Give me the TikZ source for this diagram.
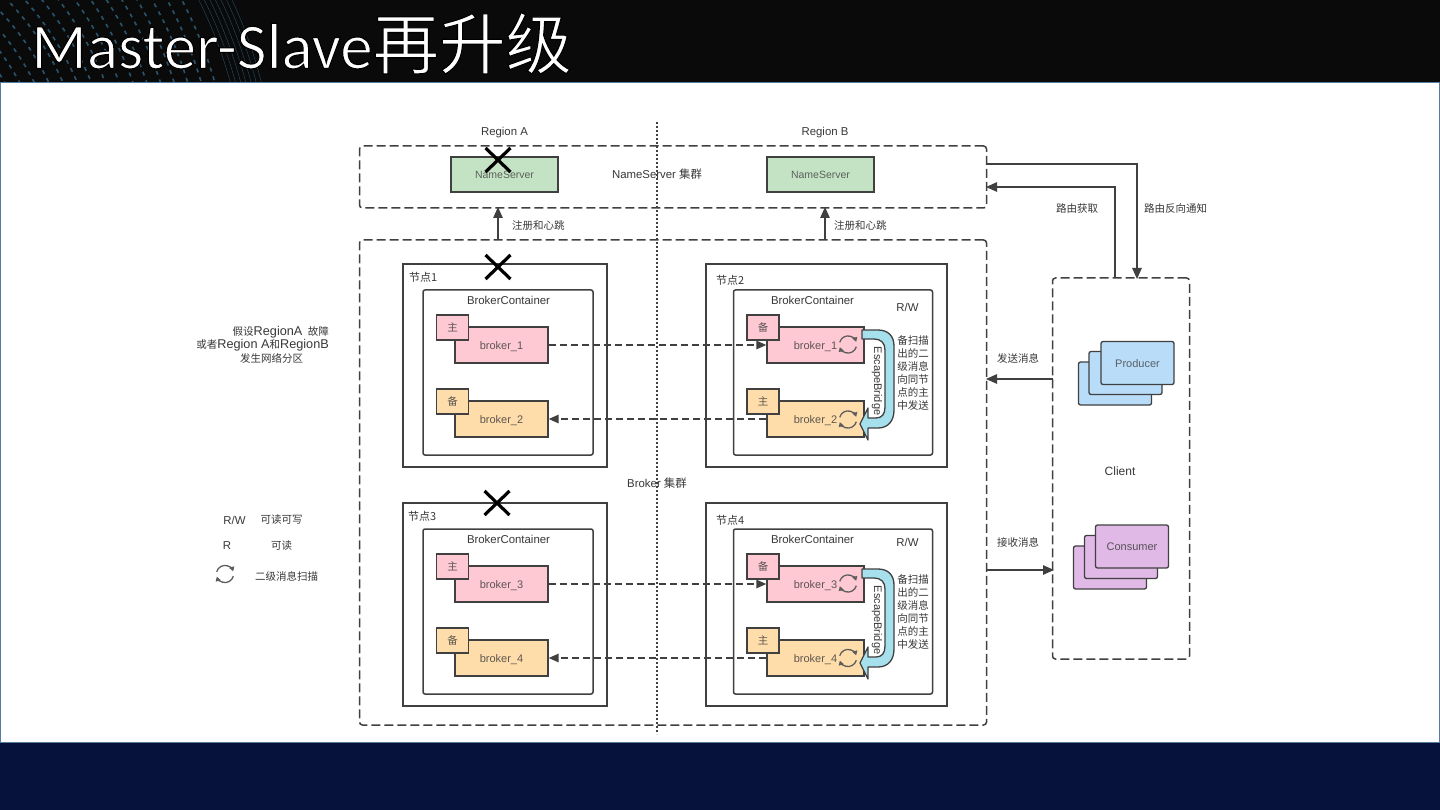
\documentclass[tikz,border=0pt]{standalone}
\usepackage{fontspec}
\setmainfont{Liberation Sans}
\newfontfamily\cjk{Noto Sans CJK SC}
\newfontfamily\titlefont{Carlito}
\usetikzlibrary{arrows.meta,calc}
\definecolor{ink}{HTML}{404040}
\definecolor{txt}{HTML}{383838}
\definecolor{pinkc}{HTML}{FFC9D4}
\definecolor{orangec}{HTML}{FFDDAA}
\definecolor{greenc}{HTML}{C4E3C4}
\definecolor{bluec}{HTML}{B9DDF8}
\definecolor{purplec}{HTML}{E0B9E6}
\definecolor{cyanc}{HTML}{A6E0EC}
\definecolor{navy}{HTML}{06123C}
\definecolor{frame}{HTML}{2E5C86}
\definecolor{dotc}{HTML}{3F86B0}
\tikzset{
 x=1pt,y=-1pt,
 lbl/.style={font=\cjk\fontsize{10.5}{12.5}\selectfont,text=txt,inner sep=0pt,align=center},
 lat/.style={lbl,font=\fontsize{11.4}{13}\selectfont},
 dashbox/.style={draw=ink,line width=1.5pt,dash pattern=on 9pt off 4pt,rounded corners=3pt},
 nodebox/.style={draw=ink,line width=1.5pt,fill=white,inner sep=0pt},
 contbox/.style={draw=ink,line width=1.5pt,fill=white,rounded corners=2pt,inner sep=0pt},
 brokerbox/.style={draw=ink,line width=1.4pt,minimum height=36pt,inner sep=0pt,text height=8pt,text depth=0pt,font=\fontsize{11}{12}\selectfont},
 tagbox/.style={draw=ink,line width=1.4pt,minimum width=32pt,minimum height=25pt,inner sep=0pt,font=\cjk\fontsize{10.5}{12}\selectfont},
 nsbox/.style={draw=ink,line width=1.4pt,fill=greenc,minimum width=107pt,minimum height=35pt,inner sep=0pt,font=\fontsize{10.5}{12}\selectfont,text=ink!80!greenc},
 stackb/.style={draw=ink,line width=1.3pt,fill=bluec,rounded corners=2pt,minimum width=73pt,minimum height=43pt,inner sep=0pt,text height=8pt,text depth=0pt,font=\fontsize{11}{12}\selectfont,text=ink!80!bluec},
 stackp/.style={stackb,fill=purplec,text=ink!85!purplec},
 flow/.style={draw=ink,line width=1.3pt,-{Triangle[length=11pt,width=9.5pt]}},
 flowd/.style={draw=ink,line width=1.5pt,dash pattern=on 7pt off 4pt,-{Triangle[length=10pt,width=8.5pt]}},
 crossx/.style={draw=black,line width=3.2pt},
 synca/.style={draw=ink!85!white,line width=1.3pt,-{Triangle[length=4.5pt,width=5pt]}},
}
\newcommand{\syncicon}[2]{%
 \draw[synca] ($(#1,#2)+(-8.3,-2.2)$) arc[start angle=-165,end angle=-18,radius=8.6];
 \draw[synca] ($(#1,#2)+(8.3,2.2)$) arc[start angle=15,end angle=162,radius=8.6];
}
% name, broker cx, cy, width, tag cx, tag text, label, fill
\newcommand{\brokerpair}[8]{%
 \node[brokerbox,minimum width=#4pt,fill=#8,text=ink!85!#8] (#1) at (#2,#3) {#7};
 \node[tagbox,fill=#8,text=ink!85!#8] (#1t) at (#5,#3-17.5) {#6};
}
\newcommand{\bridge}[2]{%
 \begin{scope}[shift={(#1,#2)}]
 \path[draw=ink,line width=1.3pt,fill=cyanc,line join=round]
  (862,330) -- (878,330) .. controls (888,330) and (894,336) .. (894,346)
  -- (894,410) .. controls (894,421) and (888,428) .. (878,428) -- (868,428) -- (868,440)
  -- (860,424) -- (868,408) -- (868,418) -- (876,418) .. controls (882,418) and (885,414) .. (885,407)
  -- (885,350) .. controls (885,343) and (881,339) .. (874,339) -- (862,339) -- cycle;
 \node[rotate=-90,font=\fontsize{11}{12}\selectfont,text=txt,inner sep=0pt] (ebr#2) at (877,381) {EscapeBridge};
 \end{scope}
}
\newcommand{\latin}[1]{{\fontspec{Liberation Sans}\fontsize{12.7}{13}\selectfont #1}}
\begin{document}
\begin{tikzpicture}
\useasboundingbox (0,0) rectangle (1440,810);
\fill[black!96!white] (0,0) rectangle (1440,83);
\fill[navy] (0,742) rectangle (1440,810);
\begin{scope}
 \clip (0,0) rectangle (300,82);
 \foreach \r in {210,223,...,440}{
  \draw[color=dotc,line width=1.6pt,dash pattern=on 4pt off 5pt,opacity=.6] (-200,200) circle[radius=\r];
 }
 \foreach \r in {446,451,...,480}{
  \draw[color=dotc,line width=.4pt,opacity=.55] (-200,200) circle[radius=\r];
 }
\end{scope}
\fill[white] (0,83) rectangle (1440,742);
\draw[frame!80!white,line width=1pt] (0.5,742) -- (0.5,82.5) -- (1439.5,82.5) -- (1439.5,742) -- cycle;
\node[anchor=base west,text=white,inner sep=0pt,font=\titlefont\fontsize{65}{70}\selectfont] (title) at (31,68.5) {\special{pdf:code 2 Tr 0 0 0 RG 1.1 w}Master-Slave{\cjk\fontsize{66.5}{70}\selectfont 再升级}\special{pdf:code 0 Tr}};
% containers
\node[dashbox,minimum width=627pt,minimum height=62pt,inner sep=0pt] (nsgroup) at (673,177) {};
\node[dashbox,minimum width=627pt,minimum height=485pt,inner sep=0pt] (brgroup) at (673,482.5) {};
\node[dashbox,minimum width=137pt,minimum height=381pt,inner sep=0pt] (client) at (1121,468.5) {};
% region labels
\node[lat] (ra) at (504.5,132.5) {Region A};
\node[lat] (rb) at (825,132.5) {Region B};
\node[nsbox] (ns1) at (504.5,174.5) {NameServer};
\node[nsbox] (ns2) at (820.5,174.5) {NameServer};
\node[lat] (nsl) at (657,174) {NameServer {\cjk 集群}};
% node boxes
\node[nodebox,minimum width=204pt,minimum height=203pt] (n1) at (505,365.5) {};
\node[nodebox,minimum width=241pt,minimum height=203pt] (n2) at (826.5,365.5) {};
\node[nodebox,minimum width=204pt,minimum height=203pt] (n3) at (505,604.5) {};
\node[nodebox,minimum width=241pt,minimum height=203pt] (n4) at (826.5,604.5) {};
\node[contbox,minimum width=170pt,minimum height=165pt] (c1) at (508,372.5) {};
\node[contbox,minimum width=199pt,minimum height=165pt] (c2) at (833,372.5) {};
\node[contbox,minimum width=170pt,minimum height=165pt] (c3) at (508,611.5) {};
\node[contbox,minimum width=199pt,minimum height=165pt] (c4) at (833,611.5) {};
\node[lbl,anchor=west,font=\cjk\fontsize{11}{13}\selectfont] (n1l) at (409,277) {节点1};
\node[lbl,anchor=west,font=\cjk\fontsize{11}{13}\selectfont] (n2l) at (716,280) {节点2};
\node[lbl,anchor=west,font=\cjk\fontsize{11}{13}\selectfont] (n3l) at (408,516) {节点3};
\node[lbl,anchor=west,font=\cjk\fontsize{11}{13}\selectfont] (n4l) at (716,520) {节点4};
\node[lat] (c1l) at (508.5,300) {BrokerContainer};
\node[lat] (c2l) at (812.5,300) {BrokerContainer};
\node[lat] (c3l) at (508.5,539) {BrokerContainer};
\node[lat] (c4l) at (812.5,539) {BrokerContainer};
\node[lat] (rw1) at (907.5,307) {R/W};
\node[lat] (rw2) at (907.5,542) {R/W};
% brokers
\brokerpair{b1}{501.5}{345}{93}{452.5}{主}{broker\_1}{pinkc}
\brokerpair{b2}{501.5}{419}{93}{452.5}{备}{broker\_2}{orangec}
\brokerpair{b3}{501.5}{584}{93}{452.5}{主}{broker\_3}{pinkc}
\brokerpair{b4}{501.5}{658}{93}{452.5}{备}{broker\_4}{orangec}
\brokerpair{d1}{815.5}{345}{97}{763}{备}{broker\_1}{pinkc}
\brokerpair{d2}{815.5}{419}{97}{763}{主}{broker\_2}{orangec}
\brokerpair{d3}{815.5}{584}{97}{763}{备}{broker\_3}{pinkc}
\brokerpair{d4}{815.5}{658}{97}{763}{主}{broker\_4}{orangec}
\syncicon{848}{344.5}
\syncicon{848}{419.5}
\syncicon{848}{583.5}
\syncicon{848}{658}
\bridge{0}{0}
\bridge{0}{239}
\node[lbl,font=\cjk\fontsize{10.5}{13}\selectfont] (t1) at (913,373.5) {备扫描\\出的二\\级消息\\向同节\\点的主\\中发送};
\node[lbl,font=\cjk\fontsize{10.5}{13}\selectfont] (t2) at (913,612) {备扫描\\出的二\\级消息\\向同节\\点的主\\中发送};
% dashed links
\draw[flowd] (b1.east) -- (d1.west);
\draw[flowd] (d2.west) -- (b2.east);
\draw[flowd] (b3.east) -- (d3.west);
\draw[flowd] (d4.west) -- (b4.east);
% center divider
\coordinate (dt) at (657,122);
\coordinate (db) at (657,734);
\draw[ink,line width=1.4pt,dash pattern=on 1.6pt off 2.4pt] (dt) -- (db);
\node[lat] (brl) at (657,483.5) {Broker {\cjk 集群}};
% crosses
\foreach \cx/\cy/\cn in {498/160/xa,498/267/xb,497/503/xc}{
 \coordinate (\cn) at (\cx,\cy);
 \draw[crossx] ($(\cn)+(-12.5,-12)$) -- ($(\cn)+(12.5,12)$);
 \draw[crossx] ($(\cn)+(-12.5,12)$) -- ($(\cn)+(12.5,-12)$);
}
% register arrows
\coordinate (ra1) at (498,240);
\coordinate (ra2) at (498,207);
\coordinate (rb1) at (825,240);
\coordinate (rb2) at (825,207);
\draw[flow] (ra1) -- (ra2);
\draw[flow] (rb1) -- (rb2);
\node[lbl,anchor=west] (rl1) at (512,226) {注册和心跳};
\node[lbl,anchor=west] (rl2) at (834,226) {注册和心跳};
% client links
\coordinate (ca) at (987,164);
\coordinate (cb) at (1137,279);
\draw[flow] (ca) -- (1137,164) -- (cb);
\coordinate (cc) at (1115,278);
\coordinate (cd) at (986,187);
\draw[flow] (cc) -- (1115,187) -- (cd);
\node[lbl] (l1) at (1077,209) {路由获取};
\node[lbl] (l2) at (1175.5,209) {路由反向通知};
\coordinate (s1) at (1053,379);
\coordinate (s2) at (986,379);
\draw[flow] (s1) -- (s2);
\coordinate (s3) at (987,570);
\coordinate (s4) at (1054,570);
\draw[flow] (s3) -- (s4);
\node[lbl] (l3) at (1018,358) {发送消息};
\node[lbl] (l4) at (1018,542) {接收消息};
% stacks
\node[stackb] (p3) at (1115,383.5) {};
\node[stackb] (p2) at (1125.5,373) {};
\node[stackb] (p1) at (1137.5,363) {Producer};
\node[stackp] (q3) at (1110,567.5) {};
\node[stackp] (q2) at (1121,557) {};
\node[stackp] (q1) at (1132,546.5) {Consumer};
\node[lbl,font=\fontsize{12}{13}\selectfont] (cl) at (1120,471.5) {Client};
% left notes
\node[lbl,anchor=east,font=\cjk\fontsize{10.5}{13}\selectfont] (na) at (329,332) {假设\latin{RegionA}\hspace{3pt} 故障};
\node[lbl,anchor=east,font=\cjk\fontsize{10.5}{13}\selectfont] (nb) at (329,345) {或者\latin{Region A}和\latin{RegionB}};
\node[lbl,font=\cjk\fontsize{10.5}{13}\selectfont] (nc) at (271.5,358) {发生网络分区};
\node[lat] (k1) at (234.5,520) {R/W};
\node[lbl] (k2) at (281.5,520) {可读可写};
\node[lat] (k3) at (227,546) {R};
\node[lbl] (k4) at (281.5,546) {可读};
\syncicon{225}{574}
\node[lbl] (k5) at (286.5,576) {二级消息扫描};
\end{tikzpicture}
\end{document}
